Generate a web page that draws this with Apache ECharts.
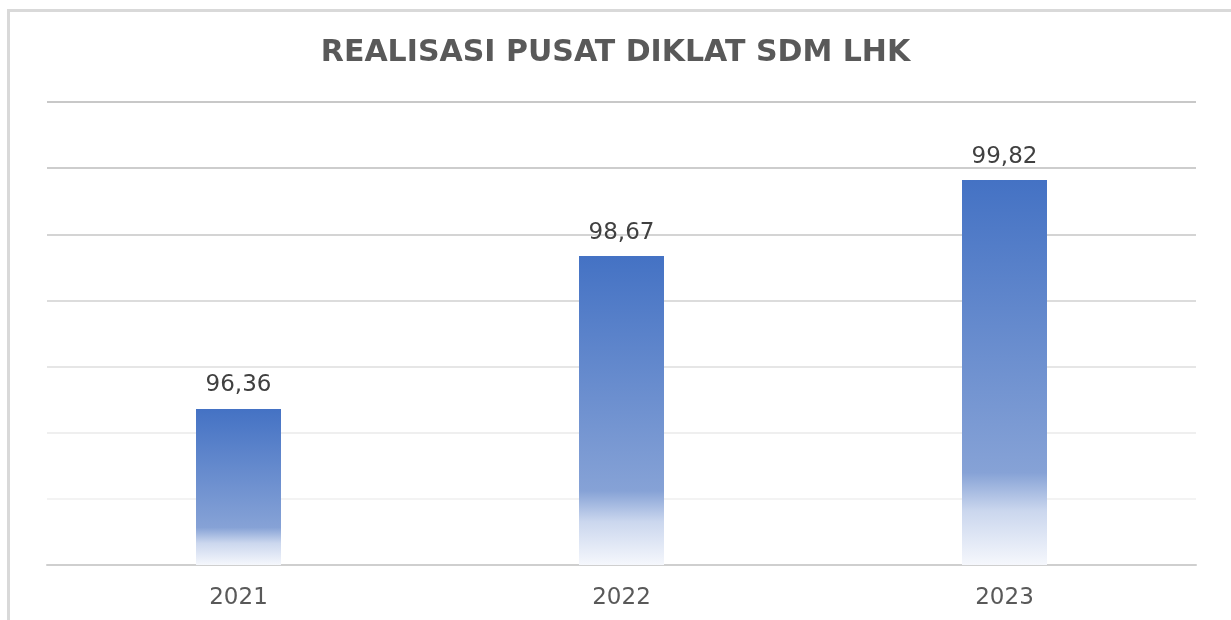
<!DOCTYPE html>
<html>
<head>
<meta charset="utf-8">
<script src="https://cdn.jsdelivr.net/npm/echarts@6/dist/echarts.min.js"></script>
<style>
  html, body { margin: 0; padding: 0; background: #fff; }
  #frame { position: absolute; left: 7px; top: 9px; width: 1240px; height: 640px; border: 3px solid #d9d9d9; box-sizing: border-box; }
  #chart { position: absolute; left: 0; top: 0; width: 1231px; height: 620px; }
</style>
</head>
<body>
<div id="frame"></div>
<div id="chart"></div>
<script>
// data
var years = ['2021', '2022', '2023'];
var realisasi = [96.36, 98.67, 99.82];

var chart = echarts.init(document.getElementById('chart'));

var option = {
    backgroundColor: 'transparent',
    title: {
        text: 'REALISASI PUSAT DIKLAT SDM LHK',
        left: 'center',
        top: 33,
        textStyle: {
            fontFamily: 'DejaVu Sans',
            fontWeight: 'bold',
            fontSize: 30,
            color: '#595959'
        }
    },
    grid: { left: 47, right: 35, top: 102, bottom: 55 },
    xAxis: {
        type: 'category',
        data: years,
        axisTick: { show: false },
        axisLine: { lineStyle: { color: '#cfcfcf', width: 2 } },
        axisLabel: {
            margin: 22,
            fontFamily: 'DejaVu Sans',
            fontSize: 23,
            color: '#595959'
        }
    },
    yAxis: {
        type: 'value',
        min: 94,
        max: 101,
        interval: 1,
        axisLabel: { show: false },
        axisLine: { show: false },
        axisTick: { show: false },
        splitLine: {
            showMinLine: false,
            lineStyle: {
                width: 2,
                color: ['#f3f3f3', '#efefef', '#e6e6e6', '#dcdcdc', '#d4d4d4', '#cdcdcd', '#c8c8c8']
            }
        }
    },
    series: [{
        type: 'bar',
        data: realisasi,
        barWidth: 85,
        itemStyle: {
            color: new echarts.graphic.LinearGradient(0, 0, 0, 1, [
                { offset: 0, color: '#4472C4' },
                { offset: 0.76, color: '#86a2d6' },
                { offset: 0.86, color: '#cbd7ee' },
                { offset: 1, color: '#f5f7fc' }
            ])
        },
        label: {
            show: true,
            position: 'top',
            distance: 12,
            fontFamily: 'DejaVu Sans',
            fontSize: 23,
            color: '#404040',
            formatter: function (p) {
                return p.value.toFixed(2).replace('.', ',');
            }
        }
    }]
};

chart.setOption(option);
</script>
</body>
</html>
